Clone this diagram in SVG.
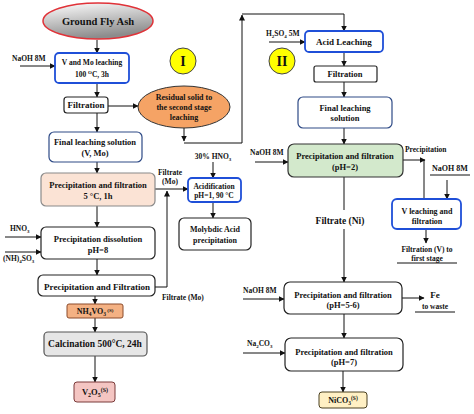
<svg xmlns="http://www.w3.org/2000/svg" width="474" height="414" viewBox="0 0 474 414">
<defs>
<linearGradient id="gfa" x1="0" y1="0" x2="0.3" y2="1">
<stop offset="0" stop-color="#ffffff"/>
<stop offset="1" stop-color="#8c8c8c"/>
</linearGradient>
<marker id="ah" markerWidth="6" markerHeight="6" refX="5.5" refY="3" orient="auto" markerUnits="userSpaceOnUse">
<path d="M0,0 L6,3 L0,6 z" fill="#111"/>
</marker>
<style>
text{font-family:"Liberation Serif","Times New Roman",serif;font-weight:bold;fill:#111;}
.c{text-anchor:middle;}
.s7{font-size:7.5px;}
.s75{font-size:7.5px;}
.s8{font-size:8px;}
.s85{font-size:8.5px;}
.s9{font-size:9px;}
.box{fill:#fff;stroke:#222;stroke-width:1.2;}
.blue{fill:#fff;stroke:#1f4fd8;stroke-width:1.8;}
.navy{fill:#fff;stroke:#2e4a86;stroke-width:1.2;}
.ln{fill:none;stroke:#111;stroke-width:1;}
.ar{fill:none;stroke:#111;stroke-width:1;marker-end:url(#ah);}
</style>
</defs>
<rect width="474" height="414" fill="#fff"/>

<g id="connectors">
<line class="ar" x1="97" y1="40" x2="97" y2="53"/>
<line class="ar" x1="20" y1="66" x2="55" y2="66"/>
<line class="ar" x1="97" y1="83" x2="97" y2="97"/>
<line class="ar" x1="108" y1="106" x2="138" y2="106"/>
<line class="ar" x1="97" y1="113" x2="97" y2="132"/>
<line class="ar" x1="184" y1="128" x2="184" y2="141"/>
<path class="ar" d="M184,143 H242 V15"/>
<path class="ar" d="M242,14 H344 V31"/>
<line class="ar" x1="97" y1="162" x2="97" y2="173"/>
<line class="ar" x1="155" y1="189" x2="188" y2="189"/>
<path class="ar" d="M155,287 H167 V191"/>
<line class="ar" x1="213" y1="162" x2="213" y2="178"/>
<line class="ar" x1="213" y1="202" x2="213" y2="218"/>
<line class="ar" x1="97" y1="206" x2="97" y2="227"/>
<line class="ar" x1="5" y1="237" x2="41" y2="237"/>
<line class="ar" x1="5" y1="252" x2="41" y2="252"/>
<line class="ar" x1="97" y1="259" x2="97" y2="275"/>
<line class="ar" x1="95" y1="296" x2="95" y2="304"/>
<line class="ar" x1="95" y1="318" x2="95" y2="332"/>
<line class="ar" x1="95" y1="356" x2="95" y2="382"/>
<line class="ar" x1="269" y1="42" x2="305" y2="42"/>
<line class="ar" x1="344" y1="52" x2="344" y2="66"/>
<line class="ar" x1="344" y1="82" x2="344" y2="97"/>
<line class="ar" x1="344" y1="128" x2="344" y2="144"/>
<line class="ar" x1="255" y1="162" x2="288" y2="162"/>
<line class="ar" x1="403" y1="160" x2="425" y2="160"/>
<line class="ln" x1="424" y1="160" x2="424" y2="199"/>
<line class="ln" x1="430" y1="175" x2="470" y2="175"/>
<line class="ar" x1="447" y1="180" x2="447" y2="199"/>
<line class="ar" x1="426" y1="229" x2="426" y2="243"/>
<line class="ln" x1="397" y1="263" x2="457" y2="263"/>
<line class="ln" x1="344" y1="177" x2="344" y2="210"/>
<line class="ar" x1="344" y1="229" x2="344" y2="282"/>
<line class="ar" x1="243" y1="299" x2="284" y2="299"/>
<line class="ar" x1="402" y1="298" x2="424" y2="298"/>
<line class="ln" x1="415" y1="312" x2="455" y2="312"/>
<line class="ar" x1="344" y1="314" x2="344" y2="338"/>
<line class="ar" x1="243" y1="353" x2="285" y2="353"/>
<line class="ar" x1="343" y1="371" x2="343" y2="392"/>
</g>

<g id="labels">
<text class="s7" x="12" y="61">NaOH 8M</text>
<text class="s7 c" x="170" y="175">Filtrate</text>
<text class="s7 c" x="170" y="184">(Mo)</text>
<text class="s7 c" x="213" y="159">30% HNO<tspan font-size="5" dy="1.5">3</tspan></text>
<text class="s7" x="10" y="231">HNO<tspan font-size="5" dy="1.5">3</tspan></text>
<text class="s7" x="3" y="261">(NH)<tspan font-size="5" dy="1.5">4</tspan><tspan dy="-1.5">SO</tspan><tspan font-size="5" dy="1.5">3</tspan></text>
<text class="s7" x="162" y="300">Filtrate (Mo)</text>
<text class="s7" x="266" y="36">H<tspan font-size="5" dy="1.5">2</tspan><tspan dy="-1.5">SO</tspan><tspan font-size="5" dy="1.5">4</tspan><tspan dy="-1.5"> 5M</tspan></text>
<text class="s7" x="250" y="155">NaOH 8M</text>
<text class="s7" x="405" y="152">Precipitation</text>
<text class="s8" x="432" y="171">NaOH 8M</text>
<text class="s7 c" x="427" y="252">Filtration (V) to</text>
<text class="s7 c" x="427" y="261">first stage</text>
<text class="c" x="340" y="224" font-size="9.5">Filtrate (Ni)</text>
<text class="s7" x="243" y="293">NaOH 8M</text>
<text class="s9 c" x="435" y="298">Fe</text>
<text class="s7 c" x="435" y="309">to waste</text>
<text class="s7" x="247" y="346">Na<tspan font-size="5" dy="1.5">2</tspan><tspan dy="-1.5">CO</tspan><tspan font-size="5" dy="1.5">3</tspan></text>
</g>

<g id="n-flyash">
<ellipse cx="98" cy="21" rx="55" ry="18" fill="url(#gfa)" stroke="#e03238" stroke-width="1.5"/>
<text class="c" x="98" y="25" font-size="10.5">Ground Fly Ash</text>
</g>
<g id="n-vmo">
<rect class="blue" x="55" y="53" width="74" height="30" rx="4"/>
<text class="s75 c" x="92" y="65">V and Mo leaching</text>
<text class="s75 c" x="92" y="77">100 <tspan font-size="5" dy="-3">O</tspan><tspan dy="3">C, 3h</tspan></text>
</g>
<g id="n-filt1">
<rect class="box" x="64" y="97" width="44" height="16" rx="3"/>
<text class="s9 c" x="86" y="108">Filtration</text>
</g>
<g id="n-residual">
<ellipse cx="184" cy="107" rx="46" ry="21" fill="#f5a365" stroke="#333" stroke-width="1"/>
<text class="s8 c" x="184" y="100">Residual solid to</text>
<text class="s8 c" x="184" y="110">the second stage</text>
<text class="s8 c" x="184" y="120">leaching</text>
</g>
<g id="n-I">
<circle cx="183" cy="61" r="13" fill="#ffff00" stroke="#444" stroke-width="1"/>
<text class="c" x="183" y="66" font-size="14">I</text>
</g>
<g id="n-final1">
<rect class="navy" x="49" y="132" width="93" height="30" rx="5"/>
<text class="s85 c" x="95" y="145">Final leaching solution</text>
<text class="s85 c" x="95" y="156">(V, Mo)</text>
</g>
<g id="n-precip1">
<rect x="41" y="173" width="114" height="33" rx="5" fill="#fbe3d5" stroke="#8a8a8a" stroke-width="1.2"/>
<text class="s85 c" x="98" y="188">Precipitation and filtration</text>
<text class="s85 c" x="98" y="199">5 °C, 1h</text>
</g>
<g id="n-acid">
<rect class="blue" x="188" y="178" width="53" height="24" rx="4" stroke-width="1.4"/>
<text class="s75 c" x="214" y="189">Acidification</text>
<text class="s75 c" x="214" y="198">pH=1, 90 °C</text>
</g>
<g id="n-molyb">
<rect class="box" x="179" y="218" width="72" height="32" rx="5"/>
<text class="s8 c" x="215" y="232">Molybdic Acid</text>
<text class="s8 c" x="215" y="243">precipitation</text>
</g>
<g id="n-dissol">
<rect class="box" x="41" y="227" width="114" height="32" rx="5"/>
<text class="s85 c" x="98" y="242">Precipitation dissolution</text>
<text class="s85 c" x="98" y="253">pH=8</text>
</g>
<g id="n-pf1">
<rect class="box" x="38" y="275" width="117" height="21" rx="5"/>
<text class="s9 c" x="97" y="290">Precipitation and Filtration</text>
</g>
<g id="n-nh4vo3">
<rect x="67" y="304" width="56" height="14" rx="2" fill="#f4b183" stroke="#8b4a2a" stroke-width="1"/>
<text class="s8 c" x="95" y="314">NH<tspan font-size="5.5" dy="1.5">4</tspan><tspan dy="-1.5">VO</tspan><tspan font-size="5.5" dy="1.5">3</tspan><tspan font-size="5" dy="-4"> (S)</tspan></text>
</g>
<g id="n-calc">
<rect x="44" y="332" width="103" height="24" rx="4" fill="#e6e6e6" stroke="#555" stroke-width="1.2"/>
<text class="c" x="95" y="347" font-size="9.5">Calcination 500°C, 24h</text>
</g>
<g id="n-v2o5">
<rect x="74" y="382" width="41" height="20" rx="3" fill="#f4c5c2" stroke="#7a3a3a" stroke-width="1"/>
<text class="s85 c" x="95" y="395">V<tspan font-size="6" dy="1.5">2</tspan><tspan dy="-1.5">O</tspan><tspan font-size="6" dy="1.5">5</tspan><tspan font-size="6" dy="-5">(S)</tspan></text>
</g>

<g id="n-acidleach">
<rect class="blue" x="305" y="31" width="78" height="21" rx="4" stroke-width="1.4"/>
<text class="s9 c" x="344" y="45">Acid Leaching</text>
</g>
<g id="n-II">
<circle cx="282" cy="61" r="13" fill="#ffff00" stroke="#444" stroke-width="1"/>
<text class="c" x="282" y="66" font-size="14">II</text>
</g>
<g id="n-filt2">
<rect class="box" x="314" y="66" width="63" height="16" rx="2"/>
<text class="s85 c" x="345" y="77">Filtration</text>
</g>
<g id="n-final2">
<rect class="navy" x="298" y="97" width="94" height="31" rx="5"/>
<text class="s85 c" x="345" y="111">Final leaching</text>
<text class="s85 c" x="345" y="121">solution</text>
</g>
<g id="n-pf2">
<rect x="288" y="144" width="115" height="33" rx="6" fill="#d3e9cc" stroke="#333" stroke-width="1.2"/>
<text class="s85 c" x="345" y="159">Precipitation and filtration</text>
<text class="s85 c" x="345" y="170">(pH=2)</text>
</g>
<g id="n-vleach">
<rect class="blue" x="392" y="199" width="69" height="30" rx="5" stroke-width="1.4"/>
<text class="s8 c" x="427" y="214">V leaching  and</text>
<text class="s8 c" x="427" y="224">filtration</text>
</g>
<g id="n-pf3">
<rect class="box" x="284" y="282" width="118" height="32" rx="6"/>
<text class="s85 c" x="343" y="298">Precipitation and filtration</text>
<text class="s85 c" x="343" y="308">(pH=5-6)</text>
</g>
<g id="n-pf4">
<rect class="box" x="285" y="338" width="118" height="33" rx="6"/>
<text class="s85 c" x="344" y="355">Precipitation and filtration</text>
<text class="s85 c" x="344" y="365">(pH=7)</text>
</g>
<g id="n-nico3">
<rect x="319" y="392" width="48" height="16" rx="3" fill="#fff0c4" stroke="#4a4020" stroke-width="1"/>
<text class="s8 c" x="343" y="403">NiCO<tspan font-size="5.5" dy="1.5">3</tspan><tspan font-size="5.5" dy="-5">(S)</tspan></text>
</g>
</svg>
